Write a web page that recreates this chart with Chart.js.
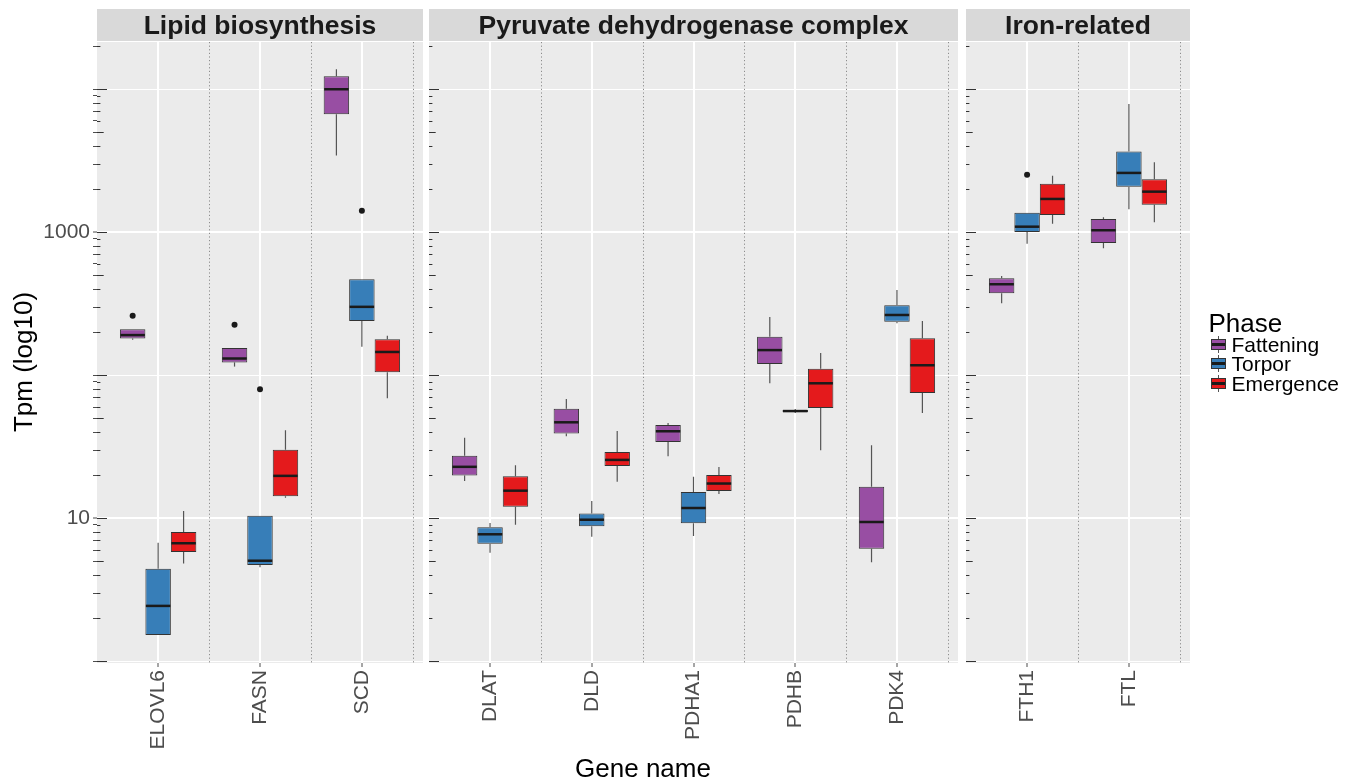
<!DOCTYPE html>
<html>
<head>
<meta charset="utf-8">
<script src="https://cdn.jsdelivr.net/npm/chart.js@4.4.0/dist/chart.umd.min.js"></script>
<style>
  body { margin: 0; background: #fff; font-family: "Liberation Sans", Arial, sans-serif; }
  #page { position: relative; width: 1354px; height: 781px; overflow: hidden; background: #fff; }
  canvas { position: absolute; left: 0; top: 0; }
  .ytitle { position: absolute; left: -127.4px; top: 349px; width: 300px; height: 26px; line-height: 26px;
            font-size: 26px; color: #000; text-align: center; transform: rotate(-90deg); }
  .xtitle { position: absolute; left: 443px; top: 755px; width: 400px; line-height: 26px;
            font-size: 26px; color: #000; text-align: center; }
  #legend { position: absolute; left: 1208.5px; top: 309.7px; color: #000; }
  #legend .lt { font-size: 26px; line-height: 26px; height: 25px; }
  #legend .row { position: relative; height: 19.5px; line-height: 19.5px; font-size: 21px; padding-left: 23px; white-space: nowrap; }
  #legend .row::before { content: ""; position: absolute; left: 9.5px; top: 1px; width: 1px; height: 17px; background: #555; }
  #legend .key { position: absolute; left: 2px; top: 4px; width: 15px; height: 11px; box-sizing: border-box;
                 border: 1px solid #333; background: linear-gradient(var(--c) 0 35%, #1a1a1a 35% 65%, var(--c) 65%); }
</style>
</head>
<body>
<div id="page">
  <canvas id="lipid" width="1354" height="781"></canvas>
  <canvas id="pyruvate" width="1354" height="781"></canvas>
  <canvas id="iron" width="1354" height="781"></canvas>
  <div class="ytitle">Tpm (log10)</div>
  <div class="xtitle">Gene name</div>
  <div id="legend">
    <div class="lt">Phase</div>
    <div class="row"><span class="key" style="--c:#984EA3"></span>Fattening</div>
    <div class="row"><span class="key" style="--c:#377EB8"></span>Torpor</div>
    <div class="row"><span class="key" style="--c:#E41A1C"></span>Emergence</div>
  </div>
</div>
<script>
// Genes in each facet
const lipidGenes = ["ELOVL6", "FASN", "SCD"];
const pyruvateGenes = ["DLAT", "DLD", "PDHA1", "PDHB", "PDK4"];
const ironGenes = ["FTH1", "FTL"];

const phases = ["Fattening", "Torpor", "Emergence"];
const phaseColors = ["#984EA3", "#377EB8", "#E41A1C"];

// box stats per gene [min, q1, median, q3, max]
// order: ELOVL6, FASN, SCD, DLAT, DLD, PDHA1, PDHB, PDK4, FTH1, FTL
const fattening = [
  [177, 181, 191, 210, 210],
  [115, 123, 131, 155, 155],
  [3435, 6680, 10000, 12330, 13800],
  [18.2, 19.9, 22.9, 27.4, 36.5],
  [37.4, 39.1, 46.9, 58.4, 68.3],
  [27.1, 34.2, 40.6, 44.9, 46.4],
  [87.9, 120, 150, 186, 256],
  [4.92, 6.12, 9.42, 16.6, 32.4],
  [319, 374, 433, 477, 495],
  [773, 842, 1033, 1239, 1273]
];
const torpor = [
  [1.53, 1.53, 2.44, 4.44, 6.75],
  [4.54, 4.71, 5.05, 10.4, 10.4],
  [158, 240, 301, 469, 469],
  [5.75, 6.64, 7.73, 8.65, 9.27],
  [7.43, 8.79, 9.77, 10.8, 13.2],
  [7.52, 9.22, 11.8, 15.3, 19.5],
  [54.5, 55.3, 56.2, 57.2, 58],
  [231, 237, 264, 309, 395],
  [832, 1005, 1094, 1371, 1371],
  [1449, 2084, 2600, 3664, 7888]
];
const emergence = [
  [4.82, 5.81, 6.69, 8.02, 11.25],
  [13.9, 14.25, 19.8, 30.2, 41.2],
  [69, 105, 145.5, 178.5, 189],
  [9.02, 12.05, 15.6, 19.7, 23.5],
  [18.0, 23.2, 25.6, 29.1, 40.8],
  [14.8, 15.5, 17.5, 20.1, 22.8],
  [29.9, 59.1, 87.9, 111, 143],
  [54.5, 75.2, 117.5, 181.5, 240],
  [1148, 1321, 1710, 2188, 2489],
  [1175, 1560, 1923, 2349, 3088]
];

// outlier points (null = none)
const fatteningOut = [261, 226, null, null, null, null, null, null, null, null];
const torporOut = [null, 79.8, 1416, null, null, null, null, null, 2529, null];
const emergenceOut = [null, null, null, null, null, null, null, null, null, null];

const yTickLabels = [10, 1000];
const yMin = 0.973, yMax = 21400;

Chart.defaults.font.family = '"Liberation Sans", Arial, sans-serif';

// log tick positions 1..9 x 10^k inside the range
const logTicks = [];
for (let e = 0; e <= 4; e++) {
  for (let m = 1; m <= 9; m++) {
    const v = m * Math.pow(10, e);
    if (v >= yMin && v <= yMax) logTicks.push(v);
  }
}
const isDecade = v => Math.abs(Math.log10(v) - Math.round(Math.log10(v))) < 1e-9;

const facetPlugin = {
  id: "facet",
  beforeDraw(chart, args, opts) {
    const { ctx, chartArea: a } = chart;
    ctx.save();
    ctx.fillStyle = "#EBEBEB";
    ctx.fillRect(a.left, a.top, a.width, a.height);
    ctx.fillStyle = "#D9D9D9";
    ctx.fillRect(a.left, a.top - 33, a.width, 32);
    ctx.fillStyle = "#1A1A1A";
    ctx.font = 'bold 26.5px "Liberation Sans", Arial, sans-serif';
    ctx.textAlign = "center";
    ctx.textBaseline = "alphabetic";
    ctx.fillText(opts.title, (a.left + a.right) / 2, a.top - 7.7);
    ctx.restore();
  },
  beforeDatasetsDraw(chart) {
    const { ctx, chartArea: a, scales: { x, y } } = chart;
    ctx.save();
    // dotted lines between genes
    const step = x.getPixelForValue(1) - x.getPixelForValue(0);
    ctx.strokeStyle = "#8C8C8C";
    ctx.lineWidth = 1;
    ctx.setLineDash([1.2, 2.4]);
    x.ticks.forEach((t, i) => {
      const px = Math.round(x.getPixelForTick(i) + step / 2) + 0.5;
      ctx.beginPath();
      ctx.moveTo(px, a.top);
      ctx.lineTo(px, a.bottom);
      ctx.stroke();
    });
    ctx.setLineDash([]);
    // log ticks along the left edge
    ctx.strokeStyle = "#333333";
    logTicks.forEach(v => {
      const m = Math.round(v / Math.pow(10, Math.floor(Math.log10(v) + 1e-9)));
      const len = m === 1 ? 10 : m === 5 ? 6.7 : 3.4;
      const py = Math.round(y.getPixelForValue(v)) + 0.5;
      ctx.beginPath();
      ctx.moveTo(a.left, py);
      ctx.lineTo(a.left + len, py);
      ctx.stroke();
    });
    // whiskers
    ctx.strokeStyle = "#555555";
    ctx.lineWidth = 1.2;
    chart.data.datasets.forEach((ds, d) => {
      chart.getDatasetMeta(d).data.forEach((bar, i) => {
        const s = ds.stats[i];
        ctx.beginPath();
        ctx.moveTo(bar.x, y.getPixelForValue(s[4]));
        ctx.lineTo(bar.x, y.getPixelForValue(s[3]));
        ctx.moveTo(bar.x, y.getPixelForValue(s[1]));
        ctx.lineTo(bar.x, y.getPixelForValue(s[0]));
        ctx.stroke();
      });
    });
    ctx.restore();
  },
  afterDatasetsDraw(chart) {
    const { ctx, scales: { y } } = chart;
    ctx.save();
    chart.data.datasets.forEach((ds, d) => {
      chart.getDatasetMeta(d).data.forEach((bar, i) => {
        const s = ds.stats[i];
        // median
        ctx.strokeStyle = "#1A1A1A";
        ctx.lineWidth = 2.5;
        const py = y.getPixelForValue(s[2]);
        ctx.beginPath();
        ctx.moveTo(bar.x - bar.width / 2 + 0.5, py);
        ctx.lineTo(bar.x + bar.width / 2 - 0.5, py);
        ctx.stroke();
        // outlier
        const o = ds.outliers[i];
        if (o != null) {
          ctx.fillStyle = "#1A1A1A";
          ctx.beginPath();
          ctx.arc(bar.x, y.getPixelForValue(o), 3, 0, Math.PI * 2);
          ctx.fill();
        }
      });
    });
    ctx.restore();
  }
};

const panels = [
  { id: "lipid", title: "Lipid biosynthesis", genes: lipidGenes, left: 0, right: 931 },
  { id: "pyruvate", title: "Pyruvate dehydrogenase complex", genes: pyruvateGenes, left: 429, right: 396 },
  { id: "iron", title: "Iron-related", genes: ironGenes, left: 966, right: 164 }
];
const phaseStats = [fattening, torpor, emergence];
const phaseOut = [fatteningOut, torporOut, emergenceOut];

let start = 0;
panels.forEach((p, k) => {
  const n = p.genes.length;
  const from = start;
  start += n;
  const datasets = phaseStats.map((stats, d) => {
    const s = stats.slice(from, from + n);
    return {
      label: phases[d],
      data: s.map(b => [b[1], b[3]]),
      stats: s,
      outliers: phaseOut[d].slice(from, from + n),
      backgroundColor: phaseColors[d],
      borderColor: "#333333",
      borderWidth: 1,
      borderSkipped: false,
      categoryPercentage: 0.75,
      barPercentage: 1
    };
  });

  new Chart(document.getElementById(p.id), {
    type: "bar",
    data: { labels: p.genes, datasets: datasets },
    plugins: [facetPlugin],
    options: {
      responsive: false,
      animation: false,
      events: [],
      layout: { padding: { left: p.left, right: p.right, top: 42, bottom: 18 } },
      plugins: {
        legend: { display: false },
        tooltip: { enabled: false },
        facet: { title: p.title }
      },
      scales: {
        x: {
          offset: true,
          // ggplot discrete expansion: 0.6 of a step each side
          afterBuildTicks: s => { s._startValue -= 0.1; s._valueRange += 0.2; },
          afterFit: s => { s.height = 100; },
          grid: { offset: false, color: "#FFFFFF", lineWidth: 2, tickColor: "#4D4D4D", tickLength: 4, tickWidth: 1 },
          border: { display: false },
          ticks: { autoSkip: false, maxRotation: 90, minRotation: 90, padding: 3, color: "#4D4D4D", font: { size: 21 } }
        },
        y: {
          type: "logarithmic",
          min: yMin,
          max: yMax,
          afterBuildTicks: s => { s.ticks = logTicks.map(v => ({ value: v })); },
          afterFit: s => { s.width = k === 0 ? 97 : 0; },
          grid: {
            color: c => (c.tick && isDecade(c.tick.value)) ? "#FFFFFF" : "rgba(0,0,0,0)",
            lineWidth: c => (c.tick && yTickLabels.includes(c.tick.value)) ? 2 : 1,
            drawTicks: k === 0,
            tickColor: "#4D4D4D",
            tickLength: 4,
            tickWidth: 1
          },
          border: { display: false },
          ticks: {
            display: k === 0,
            autoSkip: false,
            padding: 3,
            color: "#4D4D4D",
            font: { size: 21 },
            callback: v => yTickLabels.includes(v) ? String(v) : ""
          }
        }
      }
    }
  });
});
</script>
</body>
</html>
